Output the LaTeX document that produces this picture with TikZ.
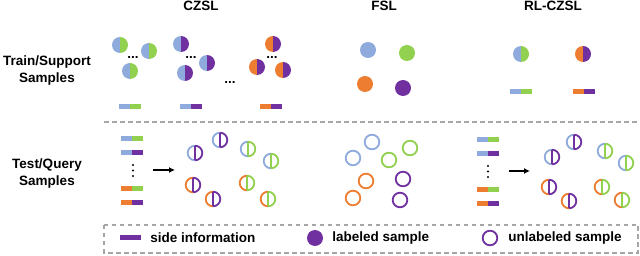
\documentclass[tikz,border=0pt]{standalone}
\usepackage{fontspec}
\setmainfont{Liberation Sans}
\definecolor{CZBlue}{HTML}{8FAADC}
\definecolor{CZGreen}{HTML}{92D050}
\definecolor{CZOrange}{HTML}{ED7D31}
\definecolor{CZPurple}{HTML}{7030A0}
\definecolor{CZGray}{HTML}{A6A6A6}
\usepackage{tikz}
\usetikzlibrary{positioning,arrows.meta}

% filled sample, two halves
\newcommand{\halfdot}[3]{%
  \fill[#2] (#1) ++(0pt,8pt) arc (90:270:8pt) -- cycle;
  \fill[#3] (#1) ++(0pt,-8pt) arc (-90:90:8pt) -- cycle;}
% open sample with predicted class
\newcommand{\splitring}[3]{%
  \draw[#2, line width=1.8pt] (#1) ++(0pt,7.3pt) arc (90:270:7.3pt);
  \draw[#3, line width=1.8pt] (#1) ++(0pt,-7.3pt) arc (-90:90:7.3pt);
  \draw[#3, line width=1.8pt] (#1) ++(0pt,7.3pt) -- ++(0pt,-14.6pt);}
% side information bar
\newcommand{\infobar}[3]{%
  \fill[#2] (#1) ++(-11pt,-2.5pt) rectangle ++(11pt,5pt);
  \fill[#3] (#1) ++(0pt,-2.5pt) rectangle ++(11pt,5pt);}

\begin{document}
\begin{tikzpicture}[x=1pt, y=-1pt, every node/.style={font=\fontsize{13.5}{17}\selectfont\bfseries, inner sep=0pt}]
    \useasboundingbox (0,0) rectangle (640,256);

    % titles
    \node (czsl) at (201,6) {CZSL};
    \node (fsl) at (384,6) {FSL};
    \node (rlczsl) at (553,6) {RL-CZSL};
    \node[align=center] (train) at (47,71) {Train/Support\\Samples};
    \node[align=center] (test) at (47,174) {Test/Query\\Samples};

    % CZSL train
    \halfdot{120,45}{CZBlue}{CZGreen}
    \halfdot{149,51}{CZBlue}{CZGreen}
    \halfdot{130,71}{CZBlue}{CZGreen}
    \node (dotsa) at (133,57) {...};
    \halfdot{181,44}{CZBlue}{CZPurple}
    \halfdot{207,63}{CZBlue}{CZPurple}
    \halfdot{185,73}{CZBlue}{CZPurple}
    \node (dotsb) at (191,57) {...};
    \node (dotsc) at (230,82) {...};
    \halfdot{273,44}{CZOrange}{CZPurple}
    \halfdot{257,67}{CZOrange}{CZPurple}
    \halfdot{283,70}{CZOrange}{CZPurple}
    \node (dotsd) at (272,57) {...};
    \infobar{130,107}{CZBlue}{CZGreen}
    \infobar{191,107}{CZBlue}{CZPurple}
    \infobar{271,107}{CZOrange}{CZPurple}

    % FSL support
    \fill[CZBlue] (368,50) circle (8pt);
    \fill[CZGreen] (407,53) circle (8pt);
    \fill[CZOrange] (365,84) circle (8pt);
    \fill[CZPurple] (403,88) circle (8pt);

    % RL-CZSL train
    \halfdot{521,54}{CZBlue}{CZGreen}
    \halfdot{583,54}{CZOrange}{CZPurple}
    \infobar{521,92}{CZBlue}{CZGreen}
    \infobar{584,92}{CZOrange}{CZPurple}

    \draw[CZGray, line width=1.5pt, dash pattern=on 4.5pt off 3.5pt] (104,122) -- (640,122);

    % CZSL test
    \infobar{132,139}{CZBlue}{CZGreen}
    \infobar{132,153}{CZBlue}{CZPurple}
    \infobar{132,189}{CZOrange}{CZGreen}
    \infobar{132,203}{CZOrange}{CZPurple}
    \fill (133,165) circle (1.2pt) (133,170.5) circle (1.2pt) (133,176) circle (1.2pt);
    \coordinate (czslfrom) at (153,170);
    \coordinate (czslto) at (175,170);
    \draw[-{Latex[length=6pt,width=6pt]}, line width=1.5pt] (czslfrom) -- (czslto);
    \splitring{195,153}{CZBlue}{CZPurple}
    \splitring{220,140}{CZBlue}{CZPurple}
    \splitring{193,185}{CZOrange}{CZPurple}
    \splitring{213,199}{CZOrange}{CZPurple}
    \splitring{248,149}{CZBlue}{CZGreen}
    \splitring{271,161}{CZBlue}{CZGreen}
    \splitring{247,183}{CZOrange}{CZGreen}
    \splitring{268,199}{CZOrange}{CZGreen}

    % FSL query
    \draw[CZBlue, line width=1.8pt] (372,142) circle (7.3pt) (353,158) circle (7.3pt);
    \draw[CZGreen, line width=1.8pt] (410,148) circle (7.3pt) (389,160) circle (7.3pt);
    \draw[CZOrange, line width=1.8pt] (366,181) circle (7.3pt) (353,198) circle (7.3pt);
    \draw[CZPurple, line width=1.8pt] (403,179) circle (7.3pt) (400,200) circle (7.3pt);

    % RL-CZSL test
    \infobar{488,140}{CZBlue}{CZGreen}
    \infobar{488,154}{CZBlue}{CZPurple}
    \infobar{488,190}{CZOrange}{CZGreen}
    \infobar{488,204}{CZOrange}{CZPurple}
    \fill (488,166) circle (1.2pt) (488,171.5) circle (1.2pt) (488,177) circle (1.2pt);
    \coordinate (rlfrom) at (509,171);
    \coordinate (rlto) at (530,171);
    \draw[-{Latex[length=6pt,width=6pt]}, line width=1.5pt] (rlfrom) -- (rlto);
    \splitring{552,157}{CZBlue}{CZPurple}
    \splitring{574,142}{CZBlue}{CZPurple}
    \splitring{549,187}{CZOrange}{CZPurple}
    \splitring{569,201}{CZOrange}{CZPurple}
    \splitring{605,151}{CZBlue}{CZGreen}
    \splitring{626,163}{CZBlue}{CZGreen}
    \splitring{602,187}{CZOrange}{CZGreen}
    \splitring{622,200}{CZOrange}{CZGreen}

    % legend
    \draw[CZGray, line width=1.2pt, dash pattern=on 4.5pt off 3.5pt] (104,225) rectangle (638,253);
    \node[fill=CZPurple, minimum width=21pt, minimum height=5pt] (legbar) at (130.5,238) {};
    \node[right=9pt of legbar] (legbartxt) {side information};
    \node[circle, fill=CZPurple, minimum size=16pt] (legdot) at (315,238) {};
    \node[right=9pt of legdot] (legdottxt) {labeled sample};
    \node[circle, draw=CZPurple, line width=1.8pt, minimum size=14.6pt] (legring) at (490,238) {};
    \node[right=10pt of legring] (legringtxt) {unlabeled sample};
\end{tikzpicture}
\end{document}
